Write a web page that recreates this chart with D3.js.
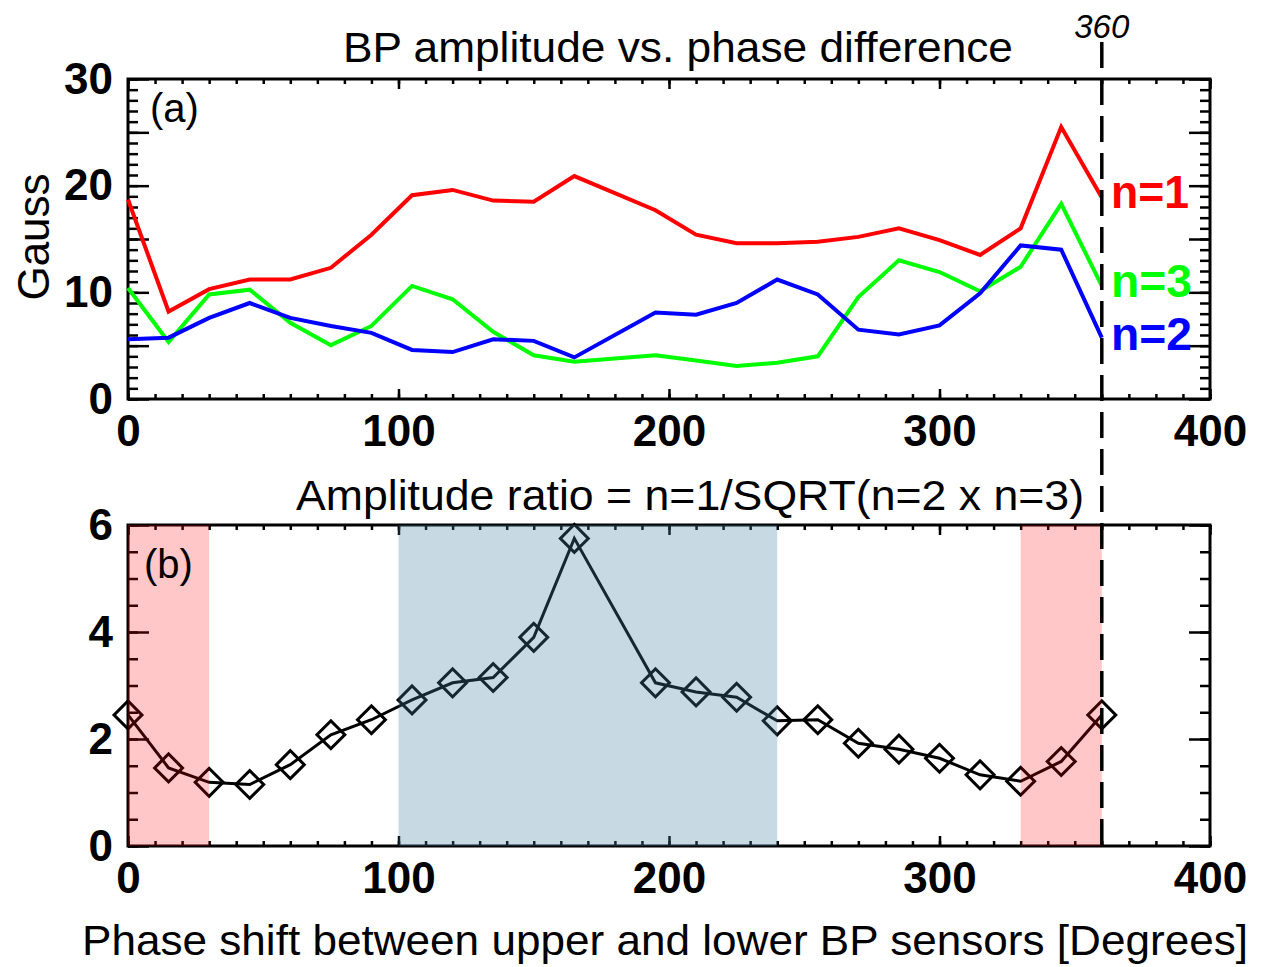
<!DOCTYPE html>
<html>
<head>
<meta charset="utf-8">
<script src="https://cdn.jsdelivr.net/npm/d3@7"></script>
<style>
  body { margin: 0; background: #fff; }
  svg { display: block; }
  text { font-family: "Liberation Sans", Arial, Helvetica, sans-serif; }
</style>
</head>
<body>
<div id="chart"></div>
<script>
// phase shift in degrees (no sample at 180)
const phase = [0, 15, 30, 45, 60, 75, 90, 105, 120, 135, 150, 165,
               195, 210, 225, 240, 255, 270, 285, 300, 315, 330, 345, 360];

// BP amplitudes [Gauss]
const ampN1 = [18.7, 8.2, 10.3, 11.2, 11.2, 12.3, 15.4, 19.1, 19.6, 18.6, 18.5, 20.9,
               17.7, 15.4, 14.6, 14.6, 14.75, 15.2, 16.0, 14.9, 13.5, 16.0, 25.5, 18.9];
const ampN2 = [5.6, 5.75, 7.6, 9.0, 7.6, 6.85, 6.2, 4.6, 4.4, 5.6, 5.45, 3.9,
               8.1, 7.9, 9.0, 11.2, 9.8, 6.5, 6.05, 6.9, 9.9, 14.4, 14.0, 5.75];
const ampN3 = [10.4, 5.35, 9.8, 10.25, 7.15, 5.05, 6.85, 10.6, 9.35, 6.3, 4.1, 3.5,
               4.1, 3.6, 3.1, 3.4, 4.0, 9.55, 13.0, 11.9, 10.1, 12.4, 18.3, 10.6];

// amplitude ratio n=1/sqrt(n=2 x n=3)
const ratio = [2.45, 1.46, 1.19, 1.15, 1.52, 2.08, 2.36, 2.73, 3.05, 3.15, 3.9, 5.75,
               3.05, 2.88, 2.78, 2.34, 2.36, 1.92, 1.81, 1.64, 1.33, 1.21, 1.58, 2.45];

const series = [
  {name: "n=1", values: ampN1, color: "#ff0000", labelY: 208, width: 78},
  {name: "n=3", values: ampN3, color: "#00ff00", labelY: 297, width: 81},
  {name: "n=2", values: ampN2, color: "#0000ff", labelY: 350, width: 81}
];

// shaded phase bands in panel (b)
const bands = [
  {from: 0, to: 30, color: "rgb(255,0,0)", opacity: 0.22},
  {from: 100, to: 240, color: "rgb(70,130,160)", opacity: 0.3},
  {from: 330, to: 360, color: "rgb(255,0,0)", opacity: 0.22}
];

const xTicksMajor = [0, 100, 200, 300, 400];

const W = 1265, H = 967;
const svg = d3.select("#chart").append("svg")
  .attr("width", W).attr("height", H);
svg.append("rect").attr("width", W).attr("height", H).attr("fill", "#fff");

const left = 128, right = 1210;
const x = d3.scaleLinear().domain([0, 400]).range([left, right]);
const yTop = d3.scaleLinear().domain([0, 30]).range([399, 79]);
const yBot = d3.scaleLinear().domain([0, 6]).range([846, 525]);

const tickFont = "bold 44px 'Liberation Sans', Arial, sans-serif";

function drawAxes(g, y, minorStep, majorStep, labelStep) {
  const y0 = y.range()[0], y1 = y.range()[1];
  const [d0, d1] = y.domain();

  const styleAxis = sel => {
    sel.select(".domain").remove();
    sel.selectAll("line").attr("stroke", "#000").attr("stroke-width", 2.5);
    sel.selectAll("text").style("font", tickFont).attr("fill", "#000");
  };

  // x: bottom with labels, top without
  const xMinor = d3.range(0, 401, 10);
  g.append("g").attr("transform", `translate(0,${y0})`)
    .call(d3.axisBottom(x).tickValues(xMinor).tickSize(-5).tickFormat(""))
    .call(styleAxis);
  g.append("g").attr("transform", `translate(0,${y0})`)
    .call(d3.axisBottom(x).tickValues(xTicksMajor).tickSize(-10).tickPadding(16))
    .call(styleAxis);
  g.append("g").attr("transform", `translate(0,${y1})`)
    .call(d3.axisTop(x).tickValues(xMinor).tickSize(-5).tickFormat(""))
    .call(styleAxis);
  g.append("g").attr("transform", `translate(0,${y1})`)
    .call(d3.axisTop(x).tickValues(xTicksMajor).tickSize(-10).tickFormat(""))
    .call(styleAxis);

  // y: left with labels, right without
  const yMinor = d3.range(d0, d1 + 1e-9, minorStep);
  const yMajor = d3.range(d0, d1 + 1e-9, majorStep);
  const fmt = d => (Math.abs(d / labelStep - Math.round(d / labelStep)) < 1e-6 ? d : "");
  g.append("g").attr("transform", `translate(${left},0)`)
    .call(d3.axisLeft(y).tickValues(yMinor).tickSize(-10).tickFormat(""))
    .call(styleAxis);
  g.append("g").attr("transform", `translate(${left},0)`)
    .call(d3.axisLeft(y).tickValues(yMajor).tickSize(-21).tickPadding(15).tickFormat(fmt))
    .call(styleAxis);
  g.append("g").attr("transform", `translate(${right},0)`)
    .call(d3.axisRight(y).tickValues(yMinor).tickSize(-10).tickFormat(""))
    .call(styleAxis);
  g.append("g").attr("transform", `translate(${right},0)`)
    .call(d3.axisRight(y).tickValues(yMajor).tickSize(-21).tickFormat(""))
    .call(styleAxis);

  // frame
  g.append("rect")
    .attr("x", left).attr("y", y1)
    .attr("width", right - left).attr("height", y0 - y1)
    .attr("fill", "none").attr("stroke", "#000").attr("stroke-width", 3);
}

// ---------- panel (a) ----------
const panelA = svg.append("g");
drawAxes(panelA, yTop, 1, 5, 10);

const lineTop = d3.line().x((d, i) => x(phase[i])).y(d => yTop(d));
series.forEach(s => {
  panelA.append("path")
    .datum(s.values)
    .attr("d", lineTop)
    .attr("fill", "none")
    .attr("stroke", s.color)
    .attr("stroke-width", 4)
    .attr("stroke-linejoin", "miter");
  panelA.append("text")
    .attr("x", 1111).attr("y", s.labelY)
    .attr("textLength", s.width).attr("lengthAdjust", "spacingAndGlyphs")
    .style("font", "bold 47px 'Liberation Sans', Arial, sans-serif")
    .attr("fill", s.color)
    .text(s.name);
});

panelA.append("text").attr("x", 150).attr("y", 122)
  .attr("font-size", 40).text("(a)");

panelA.append("text").attr("x", 343).attr("y", 62)
  .attr("font-size", 42)
  .attr("textLength", 670).attr("lengthAdjust", "spacingAndGlyphs")
  .text("BP amplitude vs. phase difference");

panelA.append("text")
  .attr("transform", "translate(49,237) rotate(-90)")
  .attr("text-anchor", "middle")
  .attr("font-size", 44)
  .text("Gauss");

// ---------- panel (b) ----------
const panelB = svg.append("g");
drawAxes(panelB, yBot, 0.5, 2, 2);

const lineBot = d3.line().x((d, i) => x(phase[i])).y(d => yBot(d));
panelB.append("path")
  .datum(ratio)
  .attr("d", lineBot)
  .attr("fill", "none")
  .attr("stroke", "#000")
  .attr("stroke-width", 3);

const diamond = d3.symbol().type(d3.symbolSquare).size(390);
panelB.selectAll(".mark")
  .data(ratio)
  .join("path")
  .attr("class", "mark")
  .attr("d", diamond)
  .attr("transform", (d, i) => `translate(${x(phase[i])},${yBot(d)}) rotate(45)`)
  .attr("fill", "none")
  .attr("stroke", "#000")
  .attr("stroke-width", 3);

// translucent bands over the data
panelB.selectAll(".band")
  .data(bands)
  .join("rect")
  .attr("class", "band")
  .attr("x", d => x(d.from))
  .attr("width", d => x(d.to) - x(d.from))
  .attr("y", yBot(6))
  .attr("height", yBot(0) - yBot(6))
  .attr("fill", d => d.color)
  .attr("fill-opacity", d => d.opacity);

panelB.append("text").attr("x", 144).attr("y", 578)
  .attr("font-size", 40).text("(b)");

panelB.append("text").attr("x", 296).attr("y", 510)
  .attr("font-size", 42)
  .attr("textLength", 788).attr("lengthAdjust", "spacingAndGlyphs")
  .text("Amplitude ratio = n=1/SQRT(n=2 x n=3)");

svg.append("text").attr("x", 82).attr("y", 955)
  .attr("font-size", 42)
  .attr("textLength", 1166).attr("lengthAdjust", "spacingAndGlyphs")
  .text("Phase shift between upper and lower BP sensors [Degrees]");

// ---------- 360 degree marker ----------
svg.append("line")
  .attr("x1", x(360)).attr("x2", x(360))
  .attr("y1", 42).attr("y2", yBot(0))
  .attr("stroke", "#000")
  .attr("stroke-width", 3.5)
  .attr("stroke-dasharray", "26,11");

svg.append("text")
  .attr("x", x(360)).attr("y", 38)
  .attr("text-anchor", "middle")
  .attr("font-size", 33)
  .attr("font-style", "italic")
  .text("360");
</script>
</body>
</html>
